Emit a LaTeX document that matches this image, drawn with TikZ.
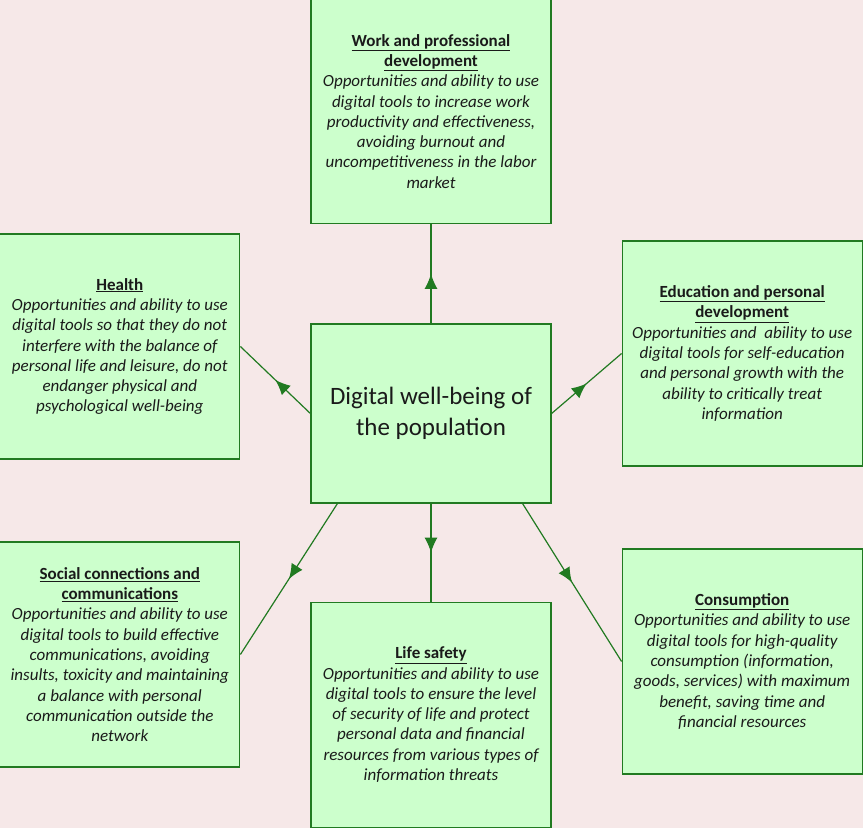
\documentclass[tikz,border=0pt]{standalone}
\usepackage{fontspec}
\setmainfont{Carlito}
\usetikzlibrary{arrows.meta, positioning, decorations.markings}
\definecolor{dwBack}{HTML}{F6E8E8}
\definecolor{dwFill}{HTML}{CCFFCC}
\definecolor{dwLine}{HTML}{217A21}
\definecolor{dwInk}{HTML}{1A1A1A}
\newcommand{\dwhead}[1]{\textup{\textbf{\underline{#1}}}}
\tikzset{
  area/.style={
    draw=dwLine, line width=1.2pt, fill=dwFill, align=center,
    text=dwInk, inner sep=0pt, minimum width=240pt, minimum height=225pt,
    font=\fontsize{17}{20.3}\selectfont\itshape
  },
  core/.style={area, minimum height=179pt, font=\fontsize{25}{30.5}\selectfont},
  flow/.style={
    draw=dwLine, line width=1.2pt, postaction={decorate},
    decoration={markings, mark=at position 0.5 with {\arrow[dwLine]{Latex[length=15pt, width=13pt]}}}
  },
}

\begin{document}
\begin{tikzpicture}[node distance=70pt]
  \fill[dwBack] (0,0) rectangle (863pt,-828pt);
  \useasboundingbox (0,0) rectangle (863pt,-828pt);
  \node[core] (hub) at (431pt,-413.5pt) {Digital well-being of\\the population};
  \node[area, above=99pt of hub] (work) {\dwhead{Work and professional}\\\dwhead{development}\\
    Opportunities and ability to use\\digital tools to increase work\\productivity and effectiveness,\\avoiding burnout and\\uncompetitiveness in the labor\\market};
  \node[area, left=of hub, yshift=67pt] (health) {\dwhead{Health}\\
    Opportunities and ability to use\\digital tools so that they do not\\interfere with the balance of\\personal life and leisure, do not\\endanger physical and\\psychological well-being};
  \node[area, right=of hub, yshift=60pt] (edu) {\dwhead{Education and personal}\\\dwhead{development}\\
    Opportunities and\ \ ability to use\\digital tools for self-education\\and personal growth with the\\ability to critically treat\\information};
  \node[area, left=of hub, yshift=-241pt] (social) {\dwhead{Social connections and}\\\dwhead{communications}\\
    Opportunities and ability to use\\digital tools to build effective\\communications, avoiding\\insults, toxicity and maintaining\\a balance with personal\\communication outside the\\network};
  \node[area, below=98pt of hub] (life) {\dwhead{Life safety}\\
    Opportunities and ability to use\\digital tools to ensure the level\\of security of life and protect\\personal data and financial\\resources from various types of\\information threats};
  \node[area, right=of hub, yshift=-248pt] (cons) {\dwhead{Consumption}\\
    Opportunities and ability to use\\digital tools for high-quality\\consumption (information,\\goods, services) with maximum\\benefit, saving time and\\financial resources};
  \draw[flow] (hub) -- (work);
  \draw[flow] (hub.west) -- (health.east);
  \draw[flow] (hub.east) -- (edu.west);
  \draw[flow] ([xshift=27pt]hub.south west) -- (social.east);
  \draw[flow] (hub) -- (life);
  \draw[flow] ([xshift=-29pt]hub.south east) -- (cons.west);
\end{tikzpicture}
\end{document}
